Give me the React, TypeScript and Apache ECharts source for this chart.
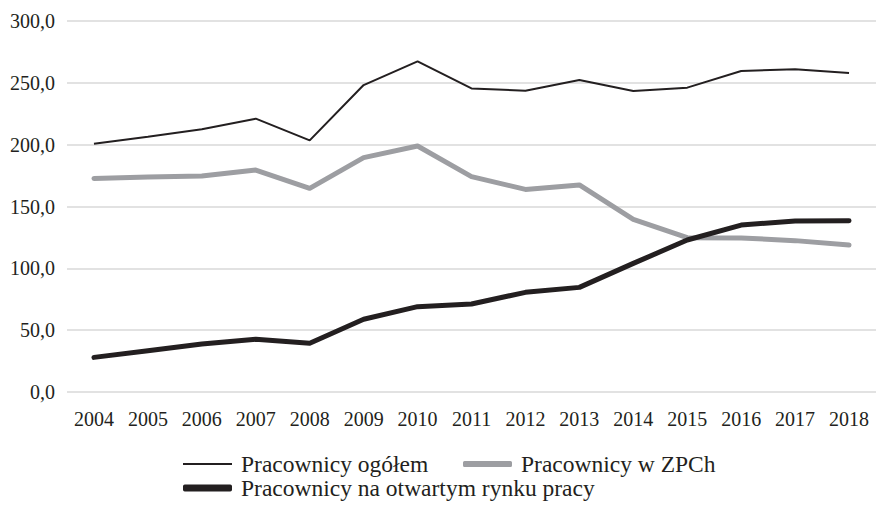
import React, { useEffect, useRef } from "react";
import * as echarts from "echarts";

const years = ["2004","2005","2006","2007","2008","2009","2010","2011","2012","2013","2014","2015","2016","2017","2018"];
const ogolem = [200.8, 206.4, 212.4, 221.0, 203.5, 248.2, 267.4, 245.5, 243.6, 252.3, 243.4, 246.1, 259.6, 260.9, 258.0];
const zpch = [172.7, 173.8, 174.7, 179.5, 164.7, 189.5, 198.9, 174.2, 163.8, 167.4, 139.6, 124.8, 124.6, 122.4, 118.9];
const otwarty = [28.0, 33.4, 38.8, 42.6, 39.4, 58.8, 69.0, 71.2, 80.6, 84.6, 104.0, 122.9, 135.0, 138.3, 138.5];
const names = ["Pracownicy ogółem", "Pracownicy w ZPCh", "Pracownicy na otwartym rynku pracy"];

const FONT = "Liberation Serif";
const TXT = "#231f20";
const GRAY = "#9d9ea2";

export default function App() {
  const ref = useRef<HTMLDivElement>(null);
  useEffect(() => {
    if (!ref.current) return;
    const chart = echarts.init(ref.current, undefined, { renderer: "svg" });
    const legendText = { color: TXT, fontFamily: FONT, fontSize: 23.5, padding: [0, 0, 0, 4] };
    const legendBase = { padding: 0, itemWidth: 49, itemGap: 34, textStyle: legendText, selectedMode: false };
    chart.setOption({
      animation: false,
      textStyle: { fontFamily: FONT, color: TXT },
      grid: { left: 67, top: 21, width: 819, height: 371, containLabel: false },
      legend: [
        { ...legendBase, data: [{ name: names[0], icon: "rect" }], left: 183, top: 452, itemHeight: 2 },
        { ...legendBase, data: [{ name: names[1], icon: "roundRect" }], left: 463, top: 452, itemHeight: 6 },
        { ...legendBase, data: [{ name: names[2], icon: "roundRect" }], left: 183, top: 476, itemHeight: 7 },
      ],
      xAxis: {
        type: "category",
        data: years,
        boundaryGap: true,
        axisLine: { show: false },
        axisTick: { show: false },
        axisLabel: { color: TXT, fontFamily: FONT, fontSize: 20, margin: 17 },
      },
      yAxis: {
        type: "value",
        min: 0, max: 300, interval: 50,
        axisLine: { show: false },
        axisTick: { show: false },
        splitLine: { lineStyle: { color: "#d9d9d9", width: 1.5 } },
        axisLabel: {
          color: TXT, fontFamily: FONT, fontSize: 20, margin: 12,
          formatter: (v: number) => v.toFixed(1).replace(".", ","),
        },
      },
      series: [
        { name: names[0], type: "line", data: ogolem, showSymbol: false, symbol: "none",
          lineStyle: { color: TXT, width: 2 }, itemStyle: { color: TXT } },
        { name: names[1], type: "line", data: zpch, showSymbol: false, symbol: "none",
          lineStyle: { color: GRAY, width: 5, cap: "round", join: "round" }, itemStyle: { color: GRAY } },
        { name: names[2], type: "line", data: otwarty, showSymbol: false, symbol: "none",
          lineStyle: { color: TXT, width: 5, cap: "round", join: "round" }, itemStyle: { color: TXT } },
      ],
    });
    return () => chart.dispose();
  }, []);
  return <div ref={ref} style={{ width: 876, height: 509, position: "absolute", left: 0, top: 0 }} />;
}
